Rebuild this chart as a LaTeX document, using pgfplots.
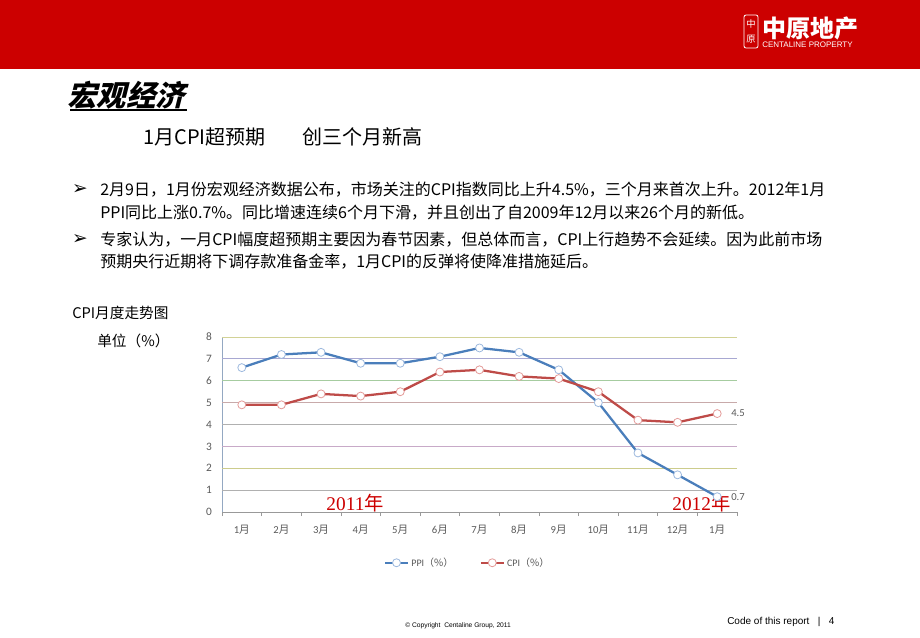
\documentclass[border=0pt]{standalone}
\usepackage{pgfplots}
\pgfplotsset{compat=1.18}
\usepackage{fontspec}
\setmainfont{Liberation Serif}
\newfontfamily\cjk{Noto Sans CJK SC}
\newfontfamily\carl{Carlito}
\newfontfamily\arial{Liberation Sans}
\newfontfamily\dejavu{DejaVu Sans}
\definecolor{bandred}{HTML}{CC0000}
\definecolor{ppiblue}{HTML}{4A7EBB}
\definecolor{ppimark}{HTML}{9DB9DE}
\definecolor{cpired}{HTML}{BE4B48}
\definecolor{cpimark}{HTML}{E49C9A}
\definecolor{ticktext}{HTML}{595959}
\definecolor{yrred}{HTML}{CC0000}
\definecolor{g8}{HTML}{D2D296}
\definecolor{g7}{HTML}{A8A8D2}
\definecolor{g6}{HTML}{A6CCA0}
\definecolor{g5}{HTML}{C8AAAA}
\definecolor{g4}{HTML}{B0B0B0}
\definecolor{g3}{HTML}{C8AAC8}
\definecolor{g2}{HTML}{CCCC8C}
\definecolor{g1}{HTML}{B0B0B0}
\begin{document}
\begin{tikzpicture}
\useasboundingbox (0,0) rectangle (690pt,-477.75pt);
\begin{scope}[x=0.75pt,y=-0.75pt]
% header band
\fill[bandred] (0,0) rectangle (920,69);
\draw[white,line width=0.6pt,rounded corners=1.5pt] (744,15) rectangle (758,48);
\node[white,font=\cjk\fontsize{7}{7}\selectfont,inner sep=0] at (751,24) {中};
\node[white,font=\cjk\fontsize{7}{7}\selectfont,inner sep=0] at (751,39) {原};
\node[white,font=\cjk\bfseries\fontsize{18}{18}\selectfont,inner sep=0,anchor=west] at (762,28) {中原地产};
\node[white,font=\arial\fontsize{6}{6}\selectfont,inner sep=0,anchor=west] at (762,45) {CENTALINE PROPERTY};
% title
\node[font=\cjk\bfseries\fontsize{22}{22}\selectfont,inner sep=0,anchor=west,xslant=0.25] at (70,95) {宏观经济};
\draw[line width=1pt] (70,110) -- (187,110);
\node[font=\cjk\fontsize{15}{15}\selectfont,inner sep=0,anchor=west] at (143,137) {1月CPI超预期};
\node[font=\cjk\fontsize{15}{15}\selectfont,inner sep=0,anchor=west] at (302,137) {创三个月新高};
% bullets
\node[font=\dejavu\fontsize{14}{14}\selectfont,inner sep=0] at (80,190) {➢};
\node[font=\dejavu\fontsize{14}{14}\selectfont,inner sep=0] at (80,240) {➢};
\begin{scope}[every node/.style={font=\cjk\fontsize{12}{12}\selectfont,inner sep=0,anchor=west}]
\node at (100,190) {2月9日，1月份宏观经济数据公布，市场关注的CPI指数同比上升4.5\%，三个月来首次上升。2012年1月};
\node at (100,213) {PPI同比上涨0.7\%。同比增速连续6个月下滑，并且创出了自2009年12月以来26个月的新低。};
\node at (100,240) {专家认为，一月CPI幅度超预期主要因为春节因素，但总体而言，CPI上行趋势不会延续。因为此前市场};
\node at (100,262) {预期央行近期将下调存款准备金率，1月CPI的反弹将使降准措施延后。};
\end{scope}
\node[font=\cjk\fontsize{11}{11}\selectfont,inner sep=0,anchor=west] at (72,313) {CPI月度走势图};
\node[font=\cjk\fontsize{11}{11}\selectfont,inner sep=0,anchor=west] at (97,341) {单位（\%）};
% footer
\node[font=\arial\fontsize{5}{5}\selectfont,inner sep=0,anchor=west] at (405,626) {© Copyright\ \ Centaline Group, 2011};
\node[font=\arial\fontsize{7.5}{7.5}\selectfont,inner sep=0,anchor=west] at (727,622) {Code of this report\ \ \ |\ \ \ 4};
\end{scope}
\begin{axis}[
  at={(166.5pt,-384pt)}, anchor=south west,
  scale only axis, width=386.25pt, height=131.25pt,
  xmin=-0.5, xmax=12.5, ymin=0, ymax=8,
  /pgf/number format/assume math mode=true,
  axis x line*=bottom, axis y line*=left,
  x axis line style={draw=gray!80, line width=0.6pt},
  y axis line style={draw=ppimark!70!gray, line width=0.6pt},
  xtick={0,...,12},
  xticklabels={1{\cjk 月},2{\cjk 月},3{\cjk 月},4{\cjk 月},5{\cjk 月},6{\cjk 月},7{\cjk 月},8{\cjk 月},9{\cjk 月},10{\cjk 月},11{\cjk 月},12{\cjk 月},1{\cjk 月}},
  minor xtick={-0.5,0.5,...,12.5},
  major tick length=0pt, minor tick length=3pt, tick align=outside,
  minor x tick style={draw=gray!80, line width=0.5pt},
  ytick={0,...,8}, ytick style={draw=none},
  tick label style={font=\carl\fontsize{8.5}{9}\selectfont, text=ticktext},
  xticklabel style={yshift=-6pt, font=\carl\fontsize{8}{9}\selectfont},
  yticklabel style={xshift=-4pt},
  clip=false,
  legend style={at={(0.478,-0.29)}, anchor=center, draw=none, fill=none,
    font=\carl\fontsize{7.5}{8}\selectfont, text=ticktext,
    /tikz/every even column/.append style={column sep=18pt}},
  legend columns=2,
  legend image post style={line width=1.2pt},
]
\draw[color=g8, line width=0.6pt] (axis cs:-0.5,8) -- (axis cs:12.5,8);
\draw[color=g7, line width=0.6pt] (axis cs:-0.5,7) -- (axis cs:12.5,7);
\draw[color=g6, line width=0.6pt] (axis cs:-0.5,6) -- (axis cs:12.5,6);
\draw[color=g5, line width=0.6pt] (axis cs:-0.5,5) -- (axis cs:12.5,5);
\draw[color=g4, line width=0.6pt] (axis cs:-0.5,4) -- (axis cs:12.5,4);
\draw[color=g3, line width=0.6pt] (axis cs:-0.5,3) -- (axis cs:12.5,3);
\draw[color=g2, line width=0.6pt] (axis cs:-0.5,2) -- (axis cs:12.5,2);
\draw[color=g1, line width=0.6pt] (axis cs:-0.5,1) -- (axis cs:12.5,1);
\addplot[color=ppiblue, line width=1.7pt, mark=*, mark size=3pt,
  mark options={fill=white, draw=ppimark, line width=0.6pt}]
  coordinates {(0,6.6) (1,7.2) (2,7.3) (3,6.8) (4,6.8) (5,7.1) (6,7.5) (7,7.3) (8,6.5) (9,5.0) (10,2.7) (11,1.7) (12,0.7)};
\addlegendentry{PPI{\cjk （\%）}}
\addplot[color=cpired, line width=1.7pt, mark=*, mark size=3pt,
  mark options={fill=white, draw=cpimark, line width=0.6pt}]
  coordinates {(0,4.9) (1,4.9) (2,5.4) (3,5.3) (4,5.5) (5,6.4) (6,6.5) (7,6.2) (8,6.1) (9,5.5) (10,4.2) (11,4.1) (12,4.5)};
\addlegendentry{CPI{\cjk （\%）}}
\node[anchor=west, font=\carl\fontsize{8}{9}\selectfont, text=ticktext, inner sep=0] at (axis cs:12.35,4.5) {4.5};
\node[anchor=west, font=\carl\fontsize{8}{9}\selectfont, text=ticktext, inner sep=0] at (axis cs:12.35,0.7) {0.7};
\node[text=yrred, font=\fontsize{14.5}{14.5}\selectfont, inner sep=0] at (axis cs:2.86,0.42) {2011{\cjk 年}};
\node[text=yrred, font=\fontsize{14.5}{14.5}\selectfont, inner sep=0] at (axis cs:11.6,0.42) {2012{\cjk 年}};
\end{axis}
\end{tikzpicture}
\end{document}
